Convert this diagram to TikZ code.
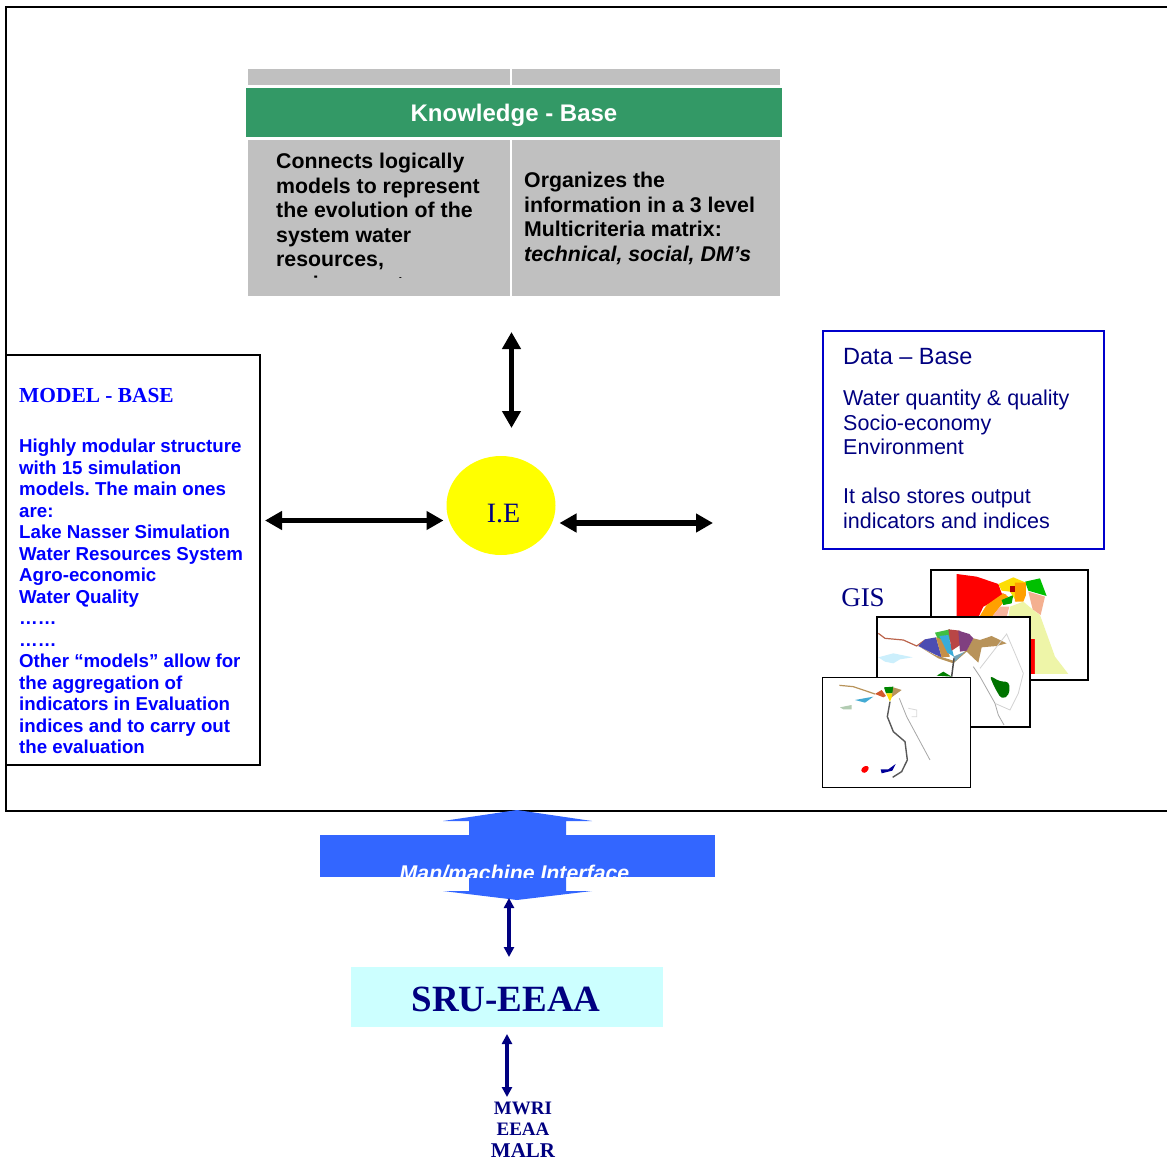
\documentclass[tikz,border=0pt]{standalone}
\usepackage{fontspec}
\setmainfont{Liberation Sans}
\newfontfamily\timesfont{Liberation Serif}
\usetikzlibrary{arrows.meta}
\usetikzlibrary{shapes.geometric}
\definecolor{kbgreen}{HTML}{339966}
\definecolor{cellgrey}{HTML}{C0C0C0}
\definecolor{mmiblue}{HTML}{3366FF}
\definecolor{sruback}{HTML}{CCFFFF}
\definecolor{deepnavy}{HTML}{000080}
\definecolor{databox}{HTML}{0000CC}
\definecolor{paleyellow}{HTML}{EEF5A8}
\definecolor{ieyellow}{HTML}{FFFF00}
\definecolor{maptan}{HTML}{B8935A}
\definecolor{mapred}{HTML}{FF0000}
\definecolor{mapgreen}{HTML}{00C000}
\definecolor{maporange}{HTML}{FFA000}
\definecolor{mapsalmon}{HTML}{F4B090}
\frenchspacing
\begin{document}
\begin{tikzpicture}[x=1pt,y=-1pt,
    grey cell/.style={fill=cellgrey,anchor=north west,inner sep=0pt,outer sep=0pt},
    body text/.style={anchor=north west,inner sep=0pt,align=left,font=\fontsize{21.3}{24.5}\selectfont\bfseries},
    model text/.style={anchor=north west,inner sep=0pt,align=left,text=blue,font=\fontsize{18.7}{21.5}\selectfont\bfseries},
    data text/.style={anchor=north west,inner sep=0pt,align=left,text=deepnavy,font=\fontsize{21.5}{24.5}\selectfont},
    map box/.style={draw=black,fill=white,anchor=north west,inner sep=0pt,outer sep=0pt},
    big arrow/.style={<->,>={Triangle[length=17pt,width=18pt]},line width=5.5pt,black},
    navy arrow/.style={<->,>={Triangle[length=10pt,width=10pt]},line width=3.6pt,deepnavy}]
   \useasboundingbox (0,0) rectangle (1167,1161);
   % outer frame
   \draw[line width=2.5pt] (1167,7) -- (6,7) -- (6,811) -- (1167,811);
   % knowledge base
   \node[grey cell,minimum width=262pt,minimum height=16pt] (kbtl) at (248,69) {};
   \node[grey cell,minimum width=268pt,minimum height=16pt] (kbtr) at (512,69) {};
   \node[fill=kbgreen,inner sep=0pt,outer sep=0pt,minimum width=536pt,minimum height=49pt] (kb) at (514,112.5) {};
   \node[inner sep=0pt,text=white,font=\fontsize{24}{26}\selectfont\bfseries] (kbtitle) at (514,115) {Knowledge - Base};
   \node[grey cell,minimum width=262pt,minimum height=156pt] (kbl) at (248,140) {};
   \node[grey cell,minimum width=268pt,minimum height=156pt] (kbr) at (512,140) {};
   \begin{scope}
     \clip (248,140) rectangle (510,277.5);
     \node[body text] (kbltext) at (276,153) {Connects logically\\models to represent\\the evolution of the\\system water\\resources,\\environment,};
   \end{scope}
   \node[body text] (kbrtext) at (524,172) {Organizes the\\information in a 3 level\\Multicriteria matrix:\\\textit{technical, social, DM’s}};
   % model base
   \node[draw=black,line width=2pt,fill=white,anchor=north west,inner sep=0pt,outer sep=0pt,minimum width=254pt,minimum height=410pt] (model) at (6,355) {};
   \node[anchor=west,inner sep=0pt,text=blue,font=\fontsize{21.4}{24}\selectfont\timesfont\bfseries] (modeltitle) at (19,396) {MODEL - BASE};
   \node[model text] (modeltext) at (19,439) {Highly modular structure\\with 15 simulation\\models. The main ones\\are:\\Lake Nasser Simulation\\Water Resources System\\Agro-economic\\Water Quality\\……\\……\\Other “models” allow for\\the aggregation of\\indicators in Evaluation\\indices and to carry out\\the evaluation};
   % inference engine
   \node[ellipse,fill=ieyellow,inner sep=0pt,outer sep=0pt,minimum width=109pt,minimum height=99pt] (ie) at (501,505.5) {};
   \node[inner sep=0pt,text=deepnavy,font=\fontsize{28}{30}\selectfont\timesfont] (ielabel) at (503.5,514) {I.E};
   % data base
   \node[draw=databox,line width=2.2pt,anchor=north west,inner sep=0pt,outer sep=0pt,minimum width=281pt,minimum height=218pt] (data) at (823,331) {};
   \node[data text,font=\fontsize{23.5}{26}\selectfont] (datatitle) at (843,348) {Data – Base};
   \node[data text] (datatext) at (843,390) {Water quantity \& quality\\Socio-economy\\Environment\\[24.5pt]It also stores output\\indicators and indices};
   % gis maps
   \node[inner sep=0pt,text=deepnavy,font=\fontsize{27}{30}\selectfont\timesfont] (gis) at (863,598) {GIS};
   \node[map box,line width=2pt,minimum width=157pt,minimum height=110pt] (mapa) at (931,570) {};
   \begin{scope}[shift={(810,560)},x=0.3333pt,y=-0.3333pt]
     \fill[mapred] (440,42) -- (500,50) -- (565,72) -- (575,100) -- (590,105) -- (550,125) -- (520,140) -- (505,172) -- (440,172) -- cycle;
     \fill[mapred] (655,237) rectangle (675,342);
     \fill[paleyellow] (600,140) -- (640,125) -- (670,150) -- (690,165) -- (735,290) -- (775,342) -- (675,342) -- (675,237) -- (655,237) -- (655,172) -- (595,172) -- cycle;
     \fill[maporange] (507,172) -- (530,135) -- (580,100) -- (595,110) -- (570,140) -- (545,172) -- cycle;
     \fill[mapsalmon!70!pink] (545,172) -- (570,140) -- (598,140) -- (590,172) -- cycle;
     \fill[mapgreen] (645,65) -- (690,55) -- (710,108) -- (655,92) -- cycle;
     \fill[mapsalmon] (655,95) -- (705,110) -- (692,165) -- (668,148) -- cycle;
     \fill[mapgreen!85!black] (575,120) -- (610,105) -- (605,130) -- (580,135) -- cycle;
     \fill[yellow!80!orange] (565,72) -- (610,52) -- (648,68) -- (648,100) -- (620,125) -- (600,95) -- (575,92) -- cycle;
     \fill[maporange] (615,68) -- (648,68) -- (648,105) -- (640,125) -- (615,125) -- cycle;
     \fill[red!70!black] (600,78) rectangle (615,95);
   \end{scope}
   \node[map box,line width=2pt,minimum width=153pt,minimum height=110pt] (mapb) at (877,617) {};
   \begin{scope}[shift={(810,560)},x=0.3333pt,y=-0.3333pt]
     \fill[cyan!20] (205,292) -- (250,280) -- (308,292) -- (270,298) -- (250,310) -- (225,305) -- cycle;
     \draw[maptan!60!red!70!gray,line width=1.2pt] (205,220) -- (225,235) -- (280,240) -- (320,258) -- (345,240);
     \fill[maptan] (325,258) -- (375,285) -- (430,302) -- (470,270) -- (490,235) -- (510,240) -- (545,228) -- (590,250) -- (560,258) -- (515,262) -- (505,308) -- (470,275) -- (430,310) -- (385,295) -- cycle;
     \fill[blue!40!gray] (325,258) -- (345,238) -- (378,232) -- (395,292) -- (372,282) -- cycle;
     \fill[green!50!gray] (375,218) -- (420,208) -- (420,240) -- (385,240) -- cycle;
     \fill[maptan!80!orange] (378,232) -- (400,240) -- (420,290) -- (395,292) -- cycle;
     \fill[cyan!75!gray] (388,228) -- (415,225) -- (432,290) -- (412,278) -- cycle;
     \fill[red!45!gray] (415,208) -- (450,212) -- (458,250) -- (425,272) -- cycle;
     \fill[violet!50!gray] (445,212) -- (478,222) -- (490,235) -- (470,272) -- (450,275) -- cycle;
     \fill[cyan!40!gray] (430,290) -- (465,275) -- (435,305) -- cycle;
     \fill[green!50!black] (380,347) -- (400,335) -- (425,350) -- cycle;
     \fill[green!45!black,rounded corners=4pt] (538,346) -- (570,365) -- (598,365) -- (598,405) -- (575,418) -- (555,385) -- cycle;
     \draw[black!70,line width=1.5pt] (432,295) -- (425,350);
     \draw[gray!70,line width=0.8pt] (490,320) -- (510,350) -- (555,430) -- (565,465) -- (582,495);
     \draw[gray!35,line width=0.8pt] (510,325) -- (590,222) -- (615,280) -- (640,340) -- (625,400) -- (600,450) -- (555,430);
   \end{scope}
   \node[map box,line width=1pt,minimum width=148pt,minimum height=110pt] (mapc) at (822,677) {};
   \begin{scope}[shift={(810,560)},x=0.3333pt,y=-0.3333pt]
     \draw[maptan,line width=1.2pt] (88,376) -- (130,380) -- (195,402);
     \fill[brown!70!red] (195,402) -- (215,390) -- (228,408) -- (220,412) -- cycle;
     \fill[mapgreen!70!black] (222,382) -- (250,380) -- (248,400) -- (228,400) -- cycle;
     \fill[yellow!80!orange] (228,400) -- (250,400) -- (240,425) -- cycle;
     \fill[maptan] (250,382) -- (275,390) -- (245,412) -- cycle;
     \fill[cyan!70!gray] (135,420) -- (190,410) -- (165,428) -- cycle;
     \fill[green!20!gray!50] (90,442) -- (125,435) -- (125,448) -- (100,448) -- cycle;
     \fill[mapred,rounded corners=3pt] (150,632) -- (165,615) -- (180,622) -- (165,642) -- cycle;
     \fill[blue!60!black] (212,628) -- (235,628) -- (257,612) -- (247,632) -- (215,640) -- cycle;
     \draw[black!65,line width=1.4pt] (240,425) -- (232,470) -- (250,515) -- (285,545) -- (292,600) -- (275,635) -- (248,652);
     \draw[gray!70,line width=0.8pt] (268,415) -- (290,470) -- (360,600);
     \draw[gray!30,line width=0.8pt] (295,445) -- (320,450) -- (320,470) -- (305,470);
   \end{scope}
   % man machine interface
   \fill[mmiblue] (517,810) -- (592,821) -- (566,821) -- (566,891) -- (592,891) -- (517,900) -- (443,891) -- (469,891) -- (469,821) -- (443,821) -- cycle;
   \node[fill=mmiblue,inner sep=0pt,outer sep=0pt,anchor=north west,minimum width=395pt,minimum height=42pt] (mmi) at (320,835) {};
   \begin{scope}
     \clip (320,835) rectangle (715,877);
     \node[inner sep=0pt,text=white,font=\fontsize{21.3}{24}\selectfont\bfseries\itshape] (mmitext) at (514.5,873) {Man/machine Interface};
   \end{scope}
   % sru
   \node[fill=sruback,inner sep=0pt,outer sep=0pt,anchor=north west,minimum width=312pt,minimum height=60pt] (sru) at (351,967) {};
   \node[inner sep=0pt,text=deepnavy,font=\fontsize{37}{40}\selectfont\timesfont\bfseries] (srutitle) at (506,999) {SRU-EEAA};
   \node[inner sep=0pt,outer sep=0pt,anchor=north,align=center,text=deepnavy,font=\fontsize{19}{21.5}\selectfont\timesfont\bfseries] (partners) at (523,1102) {MWRI\\EEAA\\{\fontsize{21}{21.5}\selectfont MALR}};
   % links
   \draw[big arrow,shorten <=5pt,shorten >=3pt] ([yshift=39.5pt]model.east) -- ([yshift=-15pt]ie.west);
   \draw[big arrow,shorten <=36pt,shorten >=28pt] ([xshift=1.5pt]kbl.south east) -- ([xshift=10.5pt]ie.north);
   \draw[big arrow,shorten <=4pt,shorten >=110pt] ([yshift=-17.5pt]ie.east) -- ([yshift=-83pt]data.west);
   \draw[navy arrow,shorten <=21pt,shorten >=10pt] ([xshift=-8.5pt]mmi.south) -- ([xshift=2pt]sru.north);
   \draw[navy arrow,shorten <=7pt,shorten >=5pt] (sru.south) -- (sru.south |- partners.north);
\end{tikzpicture}
\end{document}
